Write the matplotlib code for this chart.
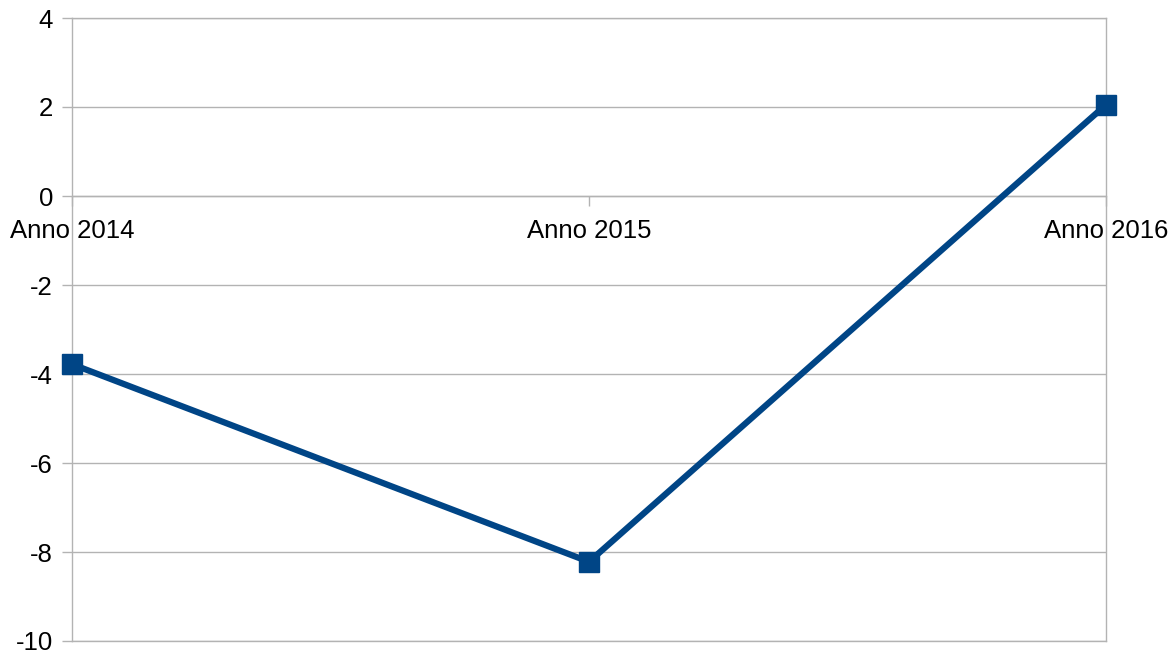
import numpy as np
import matplotlib.pyplot as plt

categories = ["Anno 2014", "Anno 2015", "Anno 2016"]
values = [-3.78, -8.22, 2.05]
y_ticks = [4, 2, 0, -2, -4, -6, -8, -10]

plt.rcParams.update({
    "font.family": ["Liberation Sans", "DejaVu Sans"],
    "font.size": 18.5,
    "figure.facecolor": "white",
    "axes.facecolor": "white",
})

grid_col = "#b3b3b3"
line_col = "#004586"

fig = plt.figure(figsize=(11.74, 6.57), dpi=100)
ax = fig.add_axes([72 / 1174, 16 / 657, 1034 / 1174, 623 / 657])

x = np.arange(len(categories))
ax.plot(x, values, color=line_col, linewidth=4.5, marker="s", markersize=14,
        markeredgecolor=line_col, markerfacecolor=line_col, clip_on=False, zorder=5,
        solid_joinstyle="miter")

ax.set_xlim(0, len(categories) - 1)
ax.set_ylim(-10, 4)
ax.set_yticks(y_ticks)
ax.set_yticklabels([str(v) for v in y_ticks])
ax.set_xticks(x)
ax.set_xticklabels(categories)

ax.yaxis.grid(True, color=grid_col, linewidth=1.0, zorder=0)
ax.axhline(-10, color=grid_col, linewidth=1.0, clip_on=False, zorder=1)
ax.set_axisbelow(True)

for side in ["left", "right", "top"]:
    ax.spines[side].set_color(grid_col)
    ax.spines[side].set_linewidth(1.0)
ax.spines["bottom"].set_position(("data", 0))
ax.spines["bottom"].set_color(grid_col)
ax.spines["bottom"].set_linewidth(1.0)

ax.tick_params(axis="y", direction="out", length=7.2, width=1.0, color=grid_col,
               pad=6.5, labelsize=18.5, labelcolor="black")
ax.tick_params(axis="x", direction="out", length=7.2, width=1.0, color=grid_col,
               pad=9.5, labelsize=18.5, labelcolor="black")

fig.savefig("out.png", dpi=100)
